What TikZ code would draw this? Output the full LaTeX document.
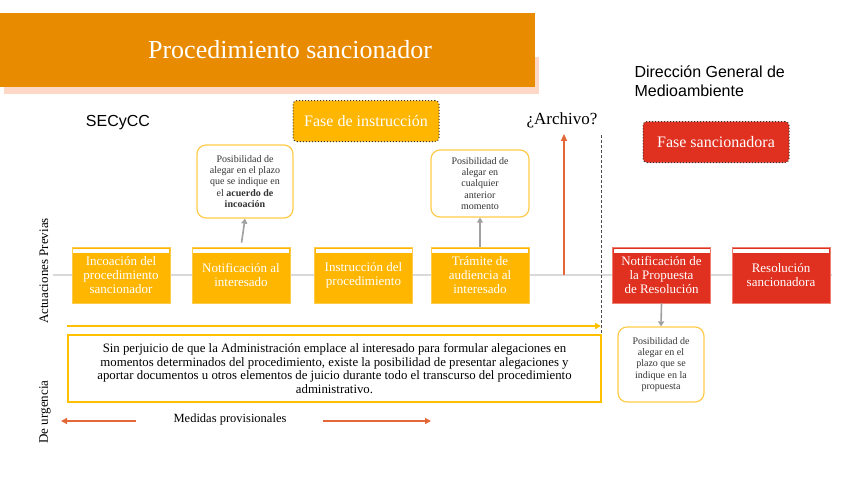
\documentclass[tikz,border=0pt]{standalone}
\usepackage{fontspec}
\setmainfont{Liberation Serif}
\newfontfamily\cabecera{Liberation Sans}
\usetikzlibrary{arrows.meta,positioning}

\definecolor{naranja}{HTML}{E98B00}
\definecolor{sombra}{HTML}{FDD8C6}
\definecolor{amarillo}{HTML}{FFB600}
\definecolor{amarilloborde}{HTML}{FFCB4A}
\definecolor{rojo}{HTML}{DF3020}
\definecolor{rojoborde}{HTML}{EE7E70}
\definecolor{lineagris}{HTML}{D9D9D9}
\definecolor{flechagris}{HTML}{A0A0A0}
\definecolor{rojoflecha}{HTML}{E2683A}
\definecolor{amarillolinea}{HTML}{FFC000}

\tikzset{
  paso/.style={rectangle, fill=amarillo, draw=amarilloborde, line width=0.8pt,
    minimum width=98pt, minimum height=56pt, inner sep=2pt, align=center,
    text=white, font=\fontsize{13}{14}\selectfont,
    path picture={\fill[white]
      ([xshift=1pt,yshift=-1.5pt]path picture bounding box.north west) rectangle
      ([xshift=-1pt,yshift=-5.5pt]path picture bounding box.north east);}},
  pasorojo/.style={paso, fill=rojo, draw=rojoborde},
  posibilidad/.style={rectangle, rounded corners=9pt, draw=amarilloborde,
    line width=1.2pt, fill=white, align=center, inner sep=2pt,
    text=black!80, font=\fontsize{10}{11.2}\selectfont},
  fase/.style={rectangle, rounded corners=4pt, draw=black!80, dotted,
    line width=1pt, minimum width=146pt, minimum height=41pt,
    text=white, font=\fontsize{16}{18}\selectfont},
  flechag/.style={-{Triangle[length=5pt,width=6pt]}, flechagris, line width=1.6pt},
  flechar/.style={-{Triangle[length=6pt,width=6pt]}, rojoflecha, line width=1.4pt},
  etiqueta/.style={rotate=90, font=\fontsize{13}{14}\selectfont}
}

\begin{document}
\begin{tikzpicture}[x=1pt, y=-1pt]
  \useasboundingbox (0,0) rectangle (848,477);

  % --- Titulo ---
  \fill[sombra] (4,57) rectangle (539,94);
  \fill[naranja] (0,13) rectangle (535,87);
  \node[text=white, font=\fontsize{26}{28}\selectfont] (titulo) at (290,50)
        {Procedimiento sancionador};

  % --- Organos ---
  \node[font=\cabecera\fontsize{16}{18}\selectfont] (secycc) at (118,123) {SECyCC};
  \node[font=\cabecera\fontsize{16}{19.5}\selectfont, align=left, anchor=west]
        (direccion) at (631,81) {Dirección General de\\Medioambiente};

  % --- Fases ---
  \node[fase, fill=amarillo] (instruccion) at (366,121) {Fase de instrucción};
  \node[fase, fill=rojo]     (sancion)     at (716,142) {Fase sancionadora};

  % --- Linea de tiempo ---
  \coordinate (lineaIzq) at (53,275);
  \coordinate (lineaDer) at (832,275);
  \draw[lineagris, line width=2.5pt] (lineaIzq) -- (lineaDer);

  % --- Pasos del procedimiento ---
  \node[paso] (incoacion) at (121,275)
        {Incoación del\\procedimiento\\sancionador};
  \node[paso] (notificacion) at (241,275) {Notificación al\\interesado};
  \node[paso] (instr) at (363.5,275) {Instrucción del\\procedimiento};
  \node[paso] (audiencia) at (480,275) {Trámite de\\audiencia al\\interesado};
  \node[pasorojo] (propuesta) at (661.5,275)
        {Notificación de\\la Propuesta\\de Resolución};
  \node[pasorojo] (resolucion) at (781,275) {Resolución\\sancionadora};

  % --- Posibilidades de alegar ---
  \node[posibilidad, minimum width=96pt, minimum height=73pt] (alegarA) at (245,181.5)
        {Posibilidad de\\alegar en el plazo\\que se indique en\\el \textbf{acuerdo de}\\\textbf{incoación}};
  \node[posibilidad, minimum width=98pt, minimum height=67pt] (alegarB) at (480,183.5)
        {Posibilidad de\\alegar en\\cualquier\\anterior\\momento};
  \node[posibilidad, minimum width=86pt, minimum height=75pt] (alegarC) at (661,364.5)
        {Posibilidad de\\alegar en el\\plazo que se\\indique en la\\propuesta};

  \draw[flechag, shorten <=4pt] (notificacion.north) -- (alegarA.south);
  \draw[flechag] (audiencia.north) -- (alegarB.south);
  \draw[flechag] (propuesta.south) -- (alegarC.north);

  % --- Archivo ---
  \node[font=\fontsize{17}{19}\selectfont, inner sep=1pt] (archivo) at (562,120) {¿Archivo?};
  \coordinate (archivoPie) at (564,275);
  \draw[-{Triangle[length=7pt,width=6pt]}, rojoflecha, line width=1.3pt, shorten >=5pt]
        (archivoPie) -- (archivoPie |- archivo.south);

  % --- Separacion de organos ---
  \coordinate (corteSup) at (601,135);
  \coordinate (corteInf) at (601,333);
  \draw[black!70, dash pattern=on 3pt off 2pt, line width=0.9pt] (corteSup) -- (corteInf);

  % --- Alegaciones en todo momento ---
  \coordinate (todoIni) at (67,326);
  \coordinate (todoFin) at (601,326);
  \draw[-{Triangle[length=6pt,width=6pt]}, amarillolinea, line width=1.4pt] (todoIni) -- (todoFin);
  \node[draw=amarillolinea, line width=1.4pt, minimum width=533pt, minimum height=67pt,
        align=center, font=\fontsize{12.8}{13.8}\selectfont] (aviso) at (334.5,368.5)
        {Sin perjuicio de que la Administración emplace al interesado para formular alegaciones en\\
         momentos determinados del procedimiento, existe la posibilidad de presentar alegaciones y\\
         aportar documentos u otros elementos de juicio durante todo el transcurso del procedimiento\\
         administrativo.};

  % --- Medidas provisionales ---
  \node[font=\fontsize{12.5}{14}\selectfont] (medidas) at (230,419) {Medidas provisionales};
  \coordinate (medIzqIni) at (136,421);
  \coordinate (medIzqFin) at (61,421);
  \coordinate (medDerIni) at (323,421);
  \coordinate (medDerFin) at (431,421);
  \draw[flechar] (medIzqIni) -- (medIzqFin);
  \draw[flechar] (medDerIni) -- (medDerFin);

  % --- Etiquetas laterales ---
  \node[etiqueta] (previas) at (44,271) {Actuaciones Previas};
  \node[etiqueta] (urgencia) at (45,412) {De urgencia};

\end{tikzpicture}
\end{document}
